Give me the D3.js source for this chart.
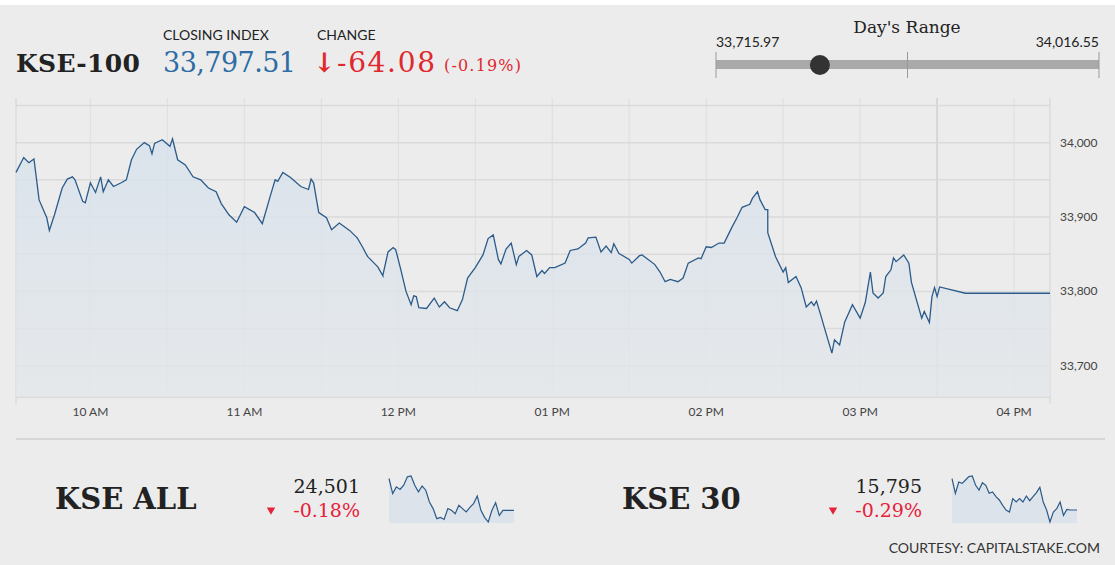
<!DOCTYPE html>
<html>
<head>
<meta charset="utf-8">
<script src="https://cdn.jsdelivr.net/npm/d3@7"></script>
<style>
  body { margin: 0; background: #fff; }
  svg { display: block; }
  .sans { font-family: Lato, "Open Sans", sans-serif; }
  .serif { font-family: "DejaVu Serif", serif; }
</style>
</head>
<body>
<svg id="chart"></svg>
<script>
// KSE-100 intraday, [minute of day, index]
const kse100 = [
  [571,33960],[574,33980],[576,33973],[578,33978],[580.5,33923],[583,33899],[584.7,33882],[586,33903],
  [589,33939],[591,33951],[593,33954],[594.5,33950],[597,33921],[598.6,33919],[600,33946],[602,33933],
  [604,33954],[605.6,33934],[607,33950],[609,33941],[612,33946],[614,33950],[616.7,33977],[618.8,33991],
  [621,34000],[623,33996],[624.7,33985],[625.8,33999],[628.9,34004],[631,33995],[632.8,34005],[634.8,33977],
  [637.6,33970],[640.4,33954],[643,33950],[646,33939],[649.5,33934],[651.6,33918],[654.4,33903],[657.8,33893],
  [660.9,33914],[664.8,33906],[667.6,33891],[670.4,33927],[672.5,33950],[673.9,33948],[675.7,33960],[678,33953],
  [682.9,33941],[685,33937],[686.8,33951],[687.8,33946],[689.9,33906],[692.7,33899],[694.7,33883],[697.9,33892],
  [701.7,33882],[704.5,33872],[706.6,33860],[708.7,33847],[712.2,33833],[714.2,33821],[714.9,33822],[716.3,33853],
  [718.4,33859],[719.1,33856],[721.2,33829],[723.3,33800],[725.4,33782],[726.8,33794],[727.8,33793],[728.9,33778],
  [731.7,33777],[734.4,33791],[736.9,33779],[738.6,33786],[740.7,33778],[743.1,33774],[745.6,33789],[747.7,33818],
  [750.5,33832],[753.2,33849],[755.1,33871],[757,33876],[759.2,33843],[760.9,33837],[762,33857],[764,33865],
  [766.2,33836],[767.9,33847],[770,33855],[772.7,33849],[774.8,33820],[776.9,33828],[777.6,33824],[779.7,33832],
  [781,33832],[785.8,33838],[787.9,33855],[790.7,33857],[793.5,33865],[794.9,33872],[797.7,33873],[799.8,33853],
  [801.9,33861],[803,33852],[804,33864],[806,33851],[810.9,33843],[811.9,33838],[814.4,33848],[815.8,33849],
  [817.2,33844],[820.7,33836],[822.7,33826],[824.1,33813],[826.9,33816],[829,33813],[831.1,33818],[833.9,33838],
  [837.4,33845],[838.7,33844],[840.8,33860],[842.9,33859],[845,33865],[847.1,33865],[850.6,33886],[852.6,33899],
  [854.8,33913],[857.5,33917],[858.9,33925],[860.1,33934],[861.7,33923],[863.1,33910],[864.1,33910],[864.9,33879],
  [867.3,33847],[870.1,33826],[871.2,33832],[872.9,33812],[875,33820],[877.1,33805],[879.9,33779],[881,33786],
  [882,33781],[883.4,33787],[885.2,33764],[886.9,33752],[889,33717],[890.4,33735],[892.5,33728],[894.6,33759],
  [897.8,33782],[900.2,33764],[902.3,33785],[904,33826],[905.4,33798],[907.2,33791],[909,33798],[910.7,33820],
  [912.1,33829],[913.2,33845],[914.6,33840],[917,33849],[919.1,33838],[920.5,33812],[924,33764],[925.4,33773],
  [927.2,33758],[928.6,33793],[929.6,33805],[930.6,33793],[931.4,33806],[941.4,33797.5],[974.2,33797.5]
];
const yTicks = [33700, 33800, 33900, 34000];
const hourTicks = [10, 11, 12, 13, 14, 15, 16];
const hourLabels = ["10 AM", "11 AM", "12 PM", "01 PM", "02 PM", "03 PM", "04 PM"];

const kseAll = [24554,24518,24534,24528,24538,24558,24560,24538,24522,24536,24526,24498,24482,24458,24461,
  24456,24482,24478,24470,24490,24482,24474,24485,24494,24512,24478,24461,24450,24478,24496,24466,24478,24478,24478,24478];
const kse30 = [15846,15824,15841,15839,15844,15849,15850,15836,15829,15840,15836,15824,15826,15819,15814,15806,
  15799,15796,15816,15811,15816,15811,15820,15813,15819,15825,15833,15811,15799,15781,15796,15801,15811,15791,15800,15799,15799,15799];

const dayLow = 33715.97, dayHigh = 34016.55, closing = 33797.51;

const W = 1115, H = 565;
const red = "#e0282e", blue = "#2e6da4";
const svg = d3.select("#chart").attr("width", W).attr("height", H);
svg.append("rect").attr("y", 5).attr("width", W).attr("height", H - 5).attr("fill", "#ececec");

const toDate = m => new Date(2017, 0, 2, Math.floor(m / 60), m % 60);

// header
svg.append("text").attr("class", "serif").attr("x", 16).attr("y", 72).attr("font-size", 25)
  .attr("font-weight", "bold").attr("fill", "#222").attr("textLength", 124).text("KSE-100");
svg.append("text").attr("class", "sans").attr("x", 163).attr("y", 40).attr("font-size", 14).attr("fill", "#222").text("CLOSING INDEX");
svg.append("text").attr("class", "sans").attr("x", 317).attr("y", 40).attr("font-size", 14).attr("fill", "#222").text("CHANGE");
svg.append("text").attr("class", "serif").attr("x", 163).attr("y", 72).attr("font-size", 27)
  .attr("fill", blue).attr("textLength", 133).text(d3.format(",.2f")(closing));
svg.append("text").attr("class", "serif").attr("x", 313).attr("y", 72).attr("font-size", 27)
  .attr("font-weight", "bold").attr("fill", red).text("↓");
svg.append("text").attr("class", "serif").attr("x", 337).attr("y", 72).attr("font-size", 28)
  .attr("fill", red).attr("textLength", 98).text("-64.08");
svg.append("text").attr("class", "serif").attr("x", 444).attr("y", 71).attr("font-size", 16)
  .attr("fill", red).attr("textLength", 77).text("(-0.19%)");

// day's range
const rx = d3.scaleLinear().domain([dayLow, dayHigh]).range([716, 1099]);
svg.append("text").attr("class", "serif").attr("x", 907).attr("y", 33).attr("font-size", 17)
  .attr("text-anchor", "middle").attr("fill", "#222").text("Day's Range");
svg.append("text").attr("class", "sans").attr("x", 716).attr("y", 47).attr("font-size", 14).attr("fill", "#222").text(d3.format(",.2f")(dayLow));
svg.append("text").attr("class", "sans").attr("x", 1099).attr("y", 47).attr("font-size", 14).attr("text-anchor", "end").attr("fill", "#222").text(d3.format(",.2f")(dayHigh));
svg.append("rect").attr("x", rx(dayLow)).attr("y", 60).attr("width", rx(dayHigh) - rx(dayLow)).attr("height", 9).attr("fill", "#a9a9a9");
[dayLow, (dayLow + dayHigh) / 2, dayHigh].forEach(v => {
  svg.append("line").attr("x1", rx(v)).attr("x2", rx(v)).attr("y1", 52).attr("y2", 78).attr("stroke", "#999");
});
svg.append("circle").attr("cx", rx(closing)).attr("cy", 65).attr("r", 10).attr("fill", "#333");

// main chart
const x = d3.scaleTime().domain([toDate(571), toDate(974.2)]).range([16, 1050]);
const y = d3.scaleLinear().domain([33658, 34060]).range([397, 98]);
const g = svg.append("g");

d3.range(570, 990, 30).forEach(m => {
  const px = x(toDate(m));
  if (px < 16 || px > 1050) return;
  g.append("line").attr("x1", px).attr("x2", px).attr("y1", 98).attr("y2", 397)
    .attr("stroke", m === 930 ? "#d6d6d6" : "#dedede").attr("stroke-width", m === 930 ? 2 : 1);
});
d3.range(33700, 34060, 50).forEach(v => {
  g.append("line").attr("x1", 16).attr("x2", 1050).attr("y1", y(v)).attr("y2", y(v))
    .attr("stroke", "#dadada").attr("stroke-width", 1.5);
});
g.append("line").attr("x1", 16).attr("x2", 1050).attr("y1", 397).attr("y2", 397).attr("stroke", "#d4d4d4").attr("stroke-width", 1.5);
g.append("line").attr("x1", 16).attr("x2", 16).attr("y1", 98).attr("y2", 404).attr("stroke", "#d4d4d4");
g.append("line").attr("x1", 1050).attr("x2", 1050).attr("y1", 98).attr("y2", 404).attr("stroke", "#d4d4d4");

const defs = svg.append("defs");
const grad = defs.append("linearGradient").attr("id", "fill").attr("x1", 0).attr("x2", 0).attr("y1", 0).attr("y2", 1);
grad.append("stop").attr("offset", "0%").attr("stop-color", "#d6e1ec").attr("stop-opacity", 0.8);
grad.append("stop").attr("offset", "100%").attr("stop-color", "#e4e7ea").attr("stop-opacity", 0.8);

const data = kse100.map(d => ({ t: toDate(d[0]), v: d[1] }));
g.append("path").datum(data).attr("fill", "url(#fill)")
  .attr("d", d3.area().x(d => x(d.t)).y0(397).y1(d => y(d.v)));
g.append("path").datum(data).attr("fill", "none").attr("stroke", "#2b5b8a").attr("stroke-width", 1.3)
  .attr("d", d3.line().x(d => x(d.t)).y(d => y(d.v)));

yTicks.forEach(v => {
  g.append("text").attr("class", "sans").attr("x", 1060).attr("y", y(v) + 4).attr("font-size", 12)
    .attr("fill", "#444").text(d3.format(",")(v));
});
hourTicks.forEach((h, i) => {
  g.append("text").attr("class", "sans").attr("x", x(toDate(h * 60))).attr("y", 416).attr("font-size", 12)
    .attr("text-anchor", "middle").attr("fill", "#444").text(hourLabels[i]);
});

svg.append("line").attr("x1", 16).attr("x2", 1105).attr("y1", 439).attr("y2", 439).attr("stroke", "#cfcfcf").attr("stroke-width", 1.5);

// sub-indices
function sub(name, nx, value, pct, ex, sx, series) {
  svg.append("text").attr("class", "serif").attr("x", nx).attr("y", 509).attr("font-size", 29)
    .attr("font-weight", "bold").attr("fill", "#222").text(name);
  svg.append("text").attr("class", "serif").attr("x", ex).attr("y", 493).attr("font-size", 19)
    .attr("text-anchor", "end").attr("fill", "#222").text(value);
  svg.append("text").attr("class", "serif").attr("x", ex).attr("y", 517).attr("font-size", 19)
    .attr("text-anchor", "end").attr("fill", "#e8203a").text(pct);
  svg.append("path").attr("d", d3.symbol().type(d3.symbolTriangle).size(30)())
    .attr("transform", `translate(${ex - 89},510) rotate(180)`).attr("fill", "#e8203a");
  const sxs = d3.scaleLinear().domain([0, series.length - 1]).range([sx, sx + 125]);
  const sys = d3.scaleLinear().domain(d3.extent(series)).range([522, 476]);
  svg.append("path").datum(series).attr("fill", "#dde3ea")
    .attr("d", d3.area().x((d, i) => sxs(i)).y0(523).y1(d => sys(d)));
  svg.append("path").datum(series).attr("fill", "none").attr("stroke", "#2b5b8a").attr("stroke-width", 1.2)
    .attr("d", d3.line().x((d, i) => sxs(i)).y(d => sys(d)));
}
sub("KSE ALL", 55, "24,501", "-0.18%", 360, 389, kseAll);
sub("KSE 30", 622, "15,795", "-0.29%", 922, 952, kse30);

svg.append("text").attr("class", "sans").attr("x", 1100).attr("y", 553).attr("font-size", 14)
  .attr("text-anchor", "end").attr("fill", "#333").text("COURTESY: CAPITALSTAKE.COM");
</script>
</body>
</html>
